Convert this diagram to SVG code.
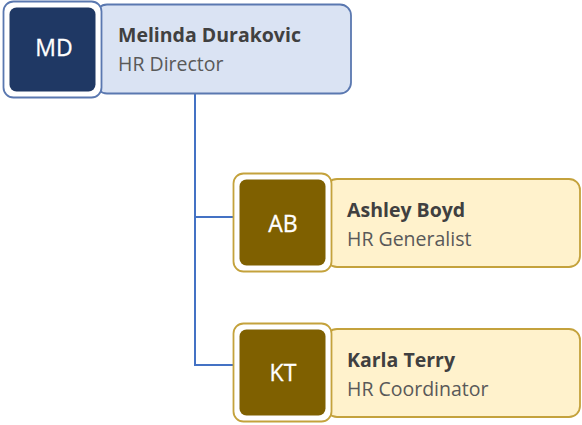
<svg xmlns="http://www.w3.org/2000/svg" width="582" height="425" viewBox="0 0 582 425">
<style>
.name{font-family:"Open Sans","Liberation Sans",sans-serif;font-weight:bold;font-size:19.5px;fill:#404040}
.title{font-family:"Open Sans","Liberation Sans",sans-serif;font-size:19.5px;fill:#595959}
.ini{font-family:"Open Sans","Liberation Sans",sans-serif;font-size:23px;fill:#ffffff;text-anchor:middle;stroke:#ffffff;stroke-width:0.3}
.bcard{fill:#DAE3F3;stroke:#5A78B0;stroke-width:1.8}
.bframe{fill:#ffffff;stroke:#5A78B0;stroke-width:1.8}
.bicon{fill:#1F3864}
.ycard{fill:#FFF2CC;stroke:#C4A23C;stroke-width:1.8}
.yframe{fill:#ffffff;stroke:#C4A23C;stroke-width:1.8}
.yicon{fill:#7F6000}
.conn{fill:none;stroke:#4472C4;stroke-width:2}
</style>
<g id="connectors">
<path class="conn" d="M195 94 V365 H234"/>
<path class="conn" d="M195 217 H234"/>
</g>
<g id="node-md">
<rect class="bcard" x="96" y="4.5" width="255" height="89" rx="11"/>
<rect class="bframe" x="3.5" y="1.5" width="98" height="96" rx="10"/>
<rect class="bicon" x="9.5" y="7.5" width="86" height="84" rx="7"/>
<text class="ini" x="54" y="56">MD</text>
<text class="name" x="118" y="41.5">Melinda Durakovic</text>
<text class="title" x="118" y="71">HR Director</text>
</g>
<g id="node-ab">
<rect class="ycard" x="326" y="179" width="254" height="88" rx="11"/>
<rect class="yframe" x="233.5" y="173.5" width="98" height="98" rx="10"/>
<rect class="yicon" x="239.5" y="179.5" width="86" height="86" rx="7"/>
<text class="ini" x="283" y="232">AB</text>
<text class="name" x="347" y="216.5">Ashley Boyd</text>
<text class="title" x="347" y="246">HR Generalist</text>
</g>
<g id="node-kt">
<rect class="ycard" x="326" y="329" width="254" height="88" rx="11"/>
<rect class="yframe" x="233.5" y="323.5" width="98" height="98" rx="10"/>
<rect class="yicon" x="239.5" y="329.5" width="86" height="86" rx="7"/>
<text class="ini" x="283" y="381">KT</text>
<text class="name" x="347" y="366.5">Karla Terry</text>
<text class="title" x="347" y="396">HR Coordinator</text>
</g>
</svg>
